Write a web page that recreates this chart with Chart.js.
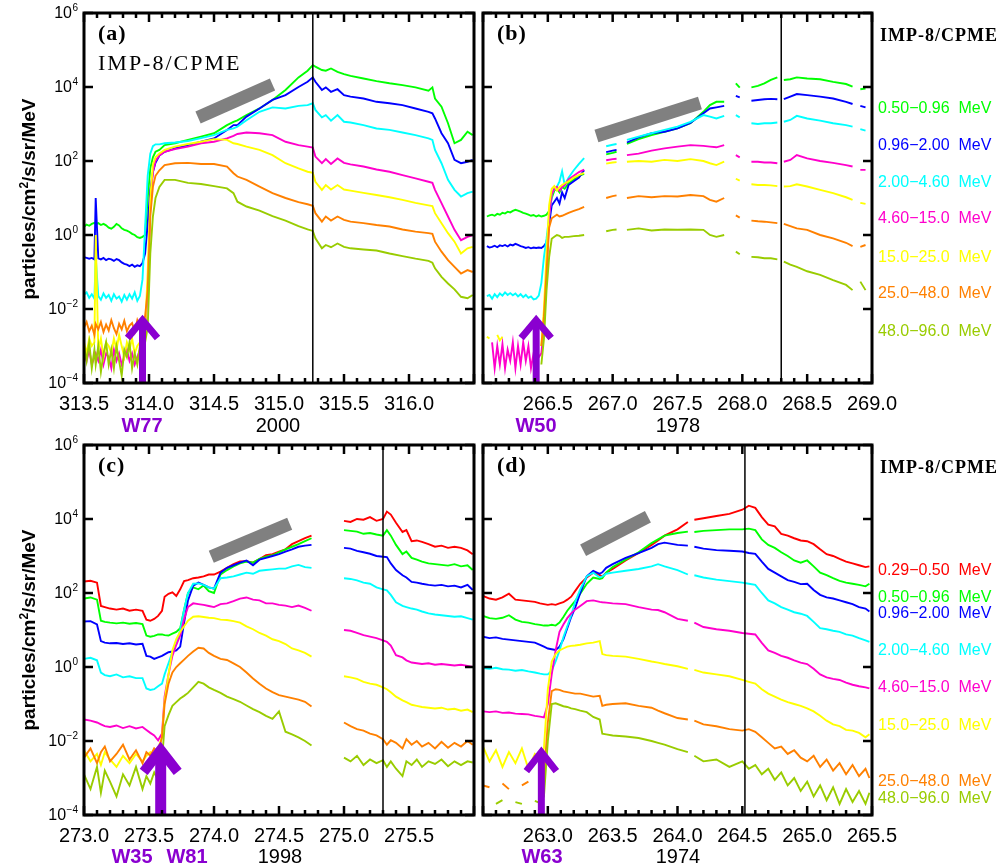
<!DOCTYPE html>
<html>
<head>
<meta charset="utf-8">
<script src="https://cdn.jsdelivr.net/npm/chart.js@4.4.1/dist/chart.umd.min.js"></script>
<style>
body{margin:0;background:#fff;width:1003px;height:868px;position:relative;overflow:hidden;font-family:"Liberation Sans",Arial,sans-serif}
canvas{position:absolute}
.t{position:absolute;white-space:pre;line-height:1;transform:translateY(-50%)}
.m{position:absolute;white-space:pre;line-height:1;transform:translate(-50%,-50%);font-size:20px}
.w{color:#8a00d0;font-weight:bold}
.e{font-size:16px;left:878px}
.imp{font-family:"Liberation Serif",serif;font-weight:bold;font-size:18px;letter-spacing:1px;left:880px}
.p{font-family:"Liberation Serif",serif;font-weight:bold;font-size:22px;letter-spacing:1px}
.yt{position:absolute;white-space:pre;line-height:1;font-weight:bold;font-size:19px;transform:translate(-50%,-50%) rotate(-90deg)}
.yt sup{font-size:12px;vertical-align:7px}
</style>
</head>
<body>
<canvas id="pa" width="500" height="420" style="left:0;top:0"></canvas>
<canvas id="pb" width="445" height="420" style="left:470px;top:0"></canvas>
<canvas id="pc" width="500" height="420" style="left:0;top:432px"></canvas>
<canvas id="pd" width="445" height="420" style="left:470px;top:432px"></canvas>

<div class="yt" style="left:28px;top:199px">particles/cm<sup>2</sup>/s/sr/MeV</div>
<div class="yt" style="left:28px;top:630px">particles/cm<sup>2</sup>/s/sr/MeV</div>

<div class="t p" style="left:98px;top:33px">(a)</div>
<div class="t" style="left:98px;top:63px;font-family:'Liberation Serif',serif;font-size:22px;letter-spacing:2px">IMP-8/CPME</div>
<div class="t p" style="left:497px;top:33px">(b)</div>
<div class="t p" style="left:98px;top:465px">(c)</div>
<div class="t p" style="left:497px;top:465px">(d)</div>

<div class="m w" style="left:142px;top:425px">W77</div>
<div class="m" style="left:278px;top:425px">2000</div>
<div class="m w" style="left:536px;top:425px">W50</div>
<div class="m" style="left:678px;top:425px">1978</div>
<div class="m w" style="left:132px;top:856px">W35</div>
<div class="m w" style="left:187px;top:856px">W81</div>
<div class="m" style="left:280px;top:856px">1998</div>
<div class="m w" style="left:542px;top:856px">W63</div>
<div class="m" style="left:678px;top:856px">1974</div>

<div class="t imp" style="top:35px">IMP-8/CPME</div>
<div class="t e" style="top:108px;color:#00ff00">0.50−0.96  MeV</div>
<div class="t e" style="top:145px;color:#0000ff">0.96−2.00  MeV</div>
<div class="t e" style="top:182px;color:#00ffff">2.00−4.60  MeV</div>
<div class="t e" style="top:218px;color:#ff00cc">4.60−15.0  MeV</div>
<div class="t e" style="top:257px;color:#ffff00">15.0−25.0  MeV</div>
<div class="t e" style="top:293px;color:#ff8000">25.0−48.0  MeV</div>
<div class="t e" style="top:331px;color:#99cc00">48.0−96.0  MeV</div>

<div class="t imp" style="top:467px">IMP-8/CPME</div>
<div class="t e" style="top:570px;color:#ff0000">0.29−0.50  MeV</div>
<div class="t e" style="top:597px;color:#00ff00">0.50−0.96  MeV</div>
<div class="t e" style="top:613px;color:#0000ff">0.96−2.00  MeV</div>
<div class="t e" style="top:650px;color:#00ffff">2.00−4.60  MeV</div>
<div class="t e" style="top:687px;color:#ff00cc">4.60−15.0  MeV</div>
<div class="t e" style="top:725px;color:#ffff00">15.0−25.0  MeV</div>
<div class="t e" style="top:781px;color:#ff8000">25.0−48.0  MeV</div>
<div class="t e" style="top:798px;color:#99cc00">48.0−96.0  MeV</div>

<script>
// values are log10 of the flux (particles/cm2/s/sr/MeV), null = data gap
const yTickExps = [-4, -2, 0, 2, 4, 6];

// ---- (a) 2000 ----
const daysA = [313.50,313.52,313.54,313.56,313.58,313.59,313.61,313.63,313.65,313.67,313.69,313.71,313.73,313.75,313.77,313.79,313.81,313.83,313.85,313.87,313.89,313.91,313.93,313.95,313.97,
  313.99,314.01,314.03,314.05,314.08,
  314.12,314.2,314.3,314.4,314.5,314.6,314.65,314.68,314.75,314.85,314.95,315.05,315.15,315.22,315.26,315.28,315.33,315.36,315.40,315.45,315.50,315.55,315.65,315.75,315.85,315.95,316.05,316.15,316.18,316.20,316.25,316.30,316.35,316.40,316.45,316.49];
const ticksA = [313.5, 314.0, 314.5, 315.0, 315.5, 316.0];
const aGreen = [0.22,0.28,0.25,0.30,0.33,0.30,0.32,0.27,0.30,0.26,0.20,0.17,0.22,0.30,0.26,0.18,0.14,0.12,0.08,0.03,0.00,-0.06,-0.08,-0.05,0.0,
  1.0,1.8,2.1,2.25,2.3,
  2.43,2.48,2.57,2.66,2.75,2.97,3.06,3.1,3.24,3.42,3.65,3.92,4.26,4.44,4.59,4.55,4.46,4.44,4.5,4.41,4.35,4.3,4.23,4.16,4.1,4.05,3.99,3.9,3.99,3.69,3.47,3.02,2.48,2.57,2.79,2.7];
const aBlue = [-0.60,-0.62,-0.64,-0.62,-0.66,1.0,-0.63,-0.66,-0.62,-0.68,-0.64,-0.66,-0.70,-0.65,-0.68,-0.74,-0.78,-0.80,-0.84,-0.80,-0.86,-0.82,-0.84,-0.76,-0.5,
  0.3,1.2,1.7,1.95,2.15,
  2.25,2.34,2.43,2.52,2.61,2.84,2.97,2.97,3.2,3.42,3.65,3.78,4.0,4.14,4.26,4.14,3.92,3.99,3.87,3.94,3.78,3.74,3.69,3.6,3.56,3.51,3.42,3.33,3.29,3.15,2.75,2.48,2.03,1.94,1.98,2.03];
const aCyan = [-1.62,-1.55,-1.70,-1.60,-1.72,-0.6,-1.65,-1.75,-1.58,-1.70,-1.62,-1.78,-1.60,-1.72,-1.66,-1.80,-1.62,-1.75,-1.60,-1.72,-1.55,-1.78,-1.65,-1.2,0.2,
  1.6,2.2,2.4,2.45,2.45,
  2.48,2.5,2.54,2.62,2.7,2.84,2.88,2.93,3.1,3.33,3.45,3.42,3.49,3.51,3.56,3.38,3.18,3.24,3.09,3.24,3.06,3.04,2.97,2.88,2.84,2.77,2.7,2.61,2.57,2.3,1.94,1.49,1.22,1.04,1.13,1.17];
const aMagenta = [-3.2,-3.4,-3.1,-3.5,-3.3,-3.2,-3.4,-3.1,-3.5,-3.2,-3.3,-3.6,-3.1,-3.4,-3.2,-3.5,-3.3,-3.1,-3.4,-3.2,-3.5,-3.3,-3.1,-2.9,-2.7,
  -1.5,0.8,1.7,2.0,2.15,
  2.25,2.32,2.39,2.48,2.52,2.61,2.68,2.73,2.77,2.75,2.7,2.52,2.43,2.39,2.36,2.12,1.94,2.05,1.92,2.07,1.95,1.91,1.85,1.77,1.71,1.62,1.53,1.44,1.41,1.22,0.86,0.5,0.14,-0.14,-0.05,0.0];
const aYellow = [-2.9,-3.2,-2.8,-3.0,-2.9,0.0,-3.1,-2.8,-3.3,-2.9,-3.0,-3.2,-2.8,-3.1,-2.7,-3.0,-3.3,-2.9,-3.1,-2.8,-3.2,-3.0,-2.9,-2.7,-2.6,
  -1.0,1.0,1.9,2.1,2.2,
  2.3,2.39,2.46,2.52,2.59,2.57,2.48,2.46,2.39,2.3,2.16,1.94,1.8,1.71,1.68,1.44,1.22,1.35,1.23,1.35,1.23,1.2,1.14,1.08,1.02,0.95,0.87,0.8,0.78,0.59,0.32,0.05,-0.18,-0.5,-0.36,-0.32];
const aOrange = [-2.50,-2.35,-2.60,-2.45,-2.70,-2.40,-2.55,-2.35,-2.62,-2.42,-2.58,-2.30,-2.52,-2.68,-2.40,-2.55,-2.32,-2.60,-2.45,-2.38,-2.62,-2.30,-2.50,-2.40,-2.2,
  -1.5,0.5,1.3,1.6,1.75,
  1.89,1.94,1.95,1.92,1.92,1.85,1.67,1.58,1.49,1.31,1.13,1.0,0.89,0.83,0.79,0.59,0.36,0.5,0.39,0.5,0.41,0.36,0.32,0.27,0.23,0.15,0.09,0.05,0.03,-0.18,-0.45,-0.68,-0.86,-1.04,-0.95,-1.0];
const aYGreen = [-3.0,-3.4,-2.9,-3.6,-3.1,-3.5,-3.0,-3.7,-3.2,-2.9,-3.5,-3.1,-3.6,-3.0,-3.4,-3.8,-3.1,-3.3,-2.9,-3.6,-3.2,-3.5,-3.0,-3.3,-2.9,
  -2.5,-0.5,0.5,1.0,1.3,
  1.49,1.49,1.41,1.38,1.32,1.26,1.13,0.9,0.77,0.66,0.51,0.39,0.24,0.15,0.11,-0.09,-0.36,-0.27,-0.33,-0.23,-0.32,-0.36,-0.39,-0.42,-0.5,-0.57,-0.64,-0.7,-0.75,-0.9,-1.13,-1.31,-1.47,-1.67,-1.71,-1.62];

// ---- (b) 1978 ----
const daysB = [266.03,266.05,266.07,266.09,266.11,266.13,266.15,266.17,266.19,266.21,266.23,266.25,266.27,266.29,266.31,266.33,266.35,266.37,266.39,266.41,266.43,
  266.45,266.47,266.49,266.51,266.53,266.55,266.57,266.59,266.61,266.63,266.66,266.70,266.74,266.78,
  266.85, 266.95,267.0,267.03, 267.07,
  267.11,267.2,267.3,267.4,267.5,267.6,267.7,267.75,267.8,267.86,
  267.91, 267.95,267.98, 268.02,
  268.07,268.12,268.17,268.22,268.27, 268.30,
  268.32,268.37,268.42,268.5,268.6,268.7,268.8,268.85, 268.88, 268.91,268.95];
const ticksB = [266.5, 267.0, 267.5, 268.0, 268.5, 269.0];
const bGreen = [0.50,0.53,0.55,0.52,0.57,0.55,0.60,0.58,0.63,0.61,0.65,0.68,0.66,0.63,0.60,0.58,0.55,0.52,0.54,0.50,0.53,
  0.50,0.52,0.55,0.65,1.0,1.2,1.25,1.15,1.3,1.25,1.4,1.5,1.6,1.65,
  null, 2.18,2.22,2.25, null,
  2.46,2.59,2.70,2.79,2.88,3.02,3.33,3.51,3.60,3.60,
  null, 4.10,3.98, null,
  3.99,4.03,4.10,4.19,4.26, null,
  4.19,4.21,4.26,4.23,4.21,4.14,4.08,4.01, null, 3.94,3.96];
const bBlue = [-0.30,-0.34,-0.32,-0.29,-0.33,-0.28,-0.30,-0.27,-0.31,-0.26,-0.28,-0.24,-0.27,-0.30,-0.32,-0.35,-0.33,-0.36,-0.34,-0.35,-0.34,
  -0.35,-0.3,-0.2,0.3,0.8,0.9,1.0,0.85,1.15,1.0,1.35,1.45,1.55,1.75,
  null, 2.24,2.28,2.30, null,
  2.50,2.64,2.75,2.79,2.88,3.03,3.29,3.42,3.45,3.49,
  null, 3.76,3.72, null,
  3.63,3.65,3.67,3.68,3.67, null,
  3.67,3.74,3.81,3.78,3.74,3.69,3.60,3.54, null, 3.49,3.45];
const bCyan = [-1.65,-1.62,-1.72,-1.60,-1.68,-1.58,-1.64,-1.55,-1.62,-1.57,-1.63,-1.58,-1.66,-1.60,-1.68,-1.62,-1.70,-1.66,-1.74,-1.72,-1.64,
  -1.3,-0.6,-0.1,0.5,1.1,1.25,1.3,1.45,1.72,1.35,1.55,1.75,1.92,2.08,
  null, 2.40,2.44,2.46, null,
  2.57,2.66,2.75,2.84,2.93,3.06,3.24,3.20,3.15,3.22,
  null, 3.24,3.18, null,
  3.02,3.00,3.02,3.02,3.04, null,
  3.06,3.11,3.22,3.15,3.09,3.02,2.97,2.93, null, 2.86,2.82];
const bMagenta = [null,null,-2.9,-3.6,-3.0,-3.5,-2.95,-3.6,-3.1,-3.4,-2.9,-3.6,-3.0,-3.5,-2.9,-3.4,-3.0,-3.6,-3.2,-3.4,-3.3,
  -3.2,-2.5,-1.0,0.5,1.1,1.25,1.3,1.2,1.3,1.35,1.5,1.6,1.7,1.77,
  null, 2.02,2.05,2.06, null,
  2.16,2.20,2.28,2.34,2.39,2.43,2.41,2.39,2.37,2.43,
  null, 2.16,2.10, null,
  1.98,1.98,1.96,1.96,1.94, null,
  1.98,2.03,2.16,2.07,2.00,1.95,1.89,1.85, null, 1.76,1.76];
const bYellow = [-2.75,-2.8,null,null,-2.7,-2.85,-2.75,null,null,null,null,null,null,null,null,null,null,null,null,null,null,
  -3.0,-2.0,-0.5,0.8,1.25,1.32,1.2,1.3,1.35,1.4,1.45,1.55,1.62,1.68,
  null, 1.93,1.96,1.97, null,
  1.98,2.00,1.98,2.03,2.00,2.05,2.00,1.94,1.89,1.98,
  null, 1.52,1.47, null,
  1.37,1.35,1.35,1.34,1.32, null,
  1.31,1.32,1.37,1.31,1.22,1.13,1.02,0.95, null, 0.87,0.84];
const bOrange = [null,null,null,null,null,null,null,null,null,null,null,null,null,null,null,null,null,null,null,null,null,
  -3.0,-2.2,-1.0,0.2,0.45,0.5,0.55,0.5,0.52,0.55,0.6,0.65,0.7,0.76,
  null, 1.00,1.05,1.07, null,
  1.00,1.05,1.02,1.05,1.04,1.08,1.05,0.95,0.90,1.00,
  null, 0.53,0.47, null,
  0.39,0.37,0.36,0.34,0.32, null,
  0.30,0.24,0.18,0.14,0.00,-0.09,-0.21,-0.30, null, -0.32,-0.27];
const bYGreen = [null,null,null,null,null,null,null,null,null,null,null,null,null,null,null,null,null,null,null,null,null,
  -3.5,-2.8,-1.5,-0.6,-0.1,-0.05,0.0,-0.02,-0.08,-0.05,-0.05,-0.03,-0.02,0.0,
  null, 0.10,0.14,0.15, null,
  0.14,0.18,0.12,0.15,0.14,0.15,0.14,0.00,-0.05,0.00,
  null, -0.45,-0.52, null,
  -0.59,-0.60,-0.63,-0.63,-0.66, null,
  -0.72,-0.80,-0.86,-0.98,-1.08,-1.22,-1.35,-1.49, null, -1.26,-1.49];

// ---- (c) 1998 ----
const daysC = [273.00,273.05,273.10,273.13,273.16,273.20,273.25,273.30,273.35,273.40,273.45,273.48,273.51,273.54,273.57,
  273.60,273.62,273.65,273.68,273.71,273.74,273.77,273.80,273.84,273.88,273.92,273.96,274.00,
  274.05,274.10,274.15,274.20,274.25,274.30,274.35,274.40,274.45,274.50,274.55,274.60,274.65,274.70,274.75,
  274.85,
  275.00,275.05,275.10,275.15,275.20,275.25,275.30,
  275.33,275.36,275.40,275.45,275.48,275.52,275.56,275.60,
  275.65,275.70,275.75,275.80,275.85,275.90,275.95,275.99];
const ticksC = [273.0, 273.5, 274.0, 274.5, 275.0, 275.5];
const cRed = [2.31,2.33,2.28,1.65,1.62,1.58,1.55,1.58,1.52,1.55,1.52,1.28,1.25,1.30,1.38,
  1.52,1.90,1.98,2.02,1.92,2.10,2.32,2.35,2.40,2.42,2.45,2.50,2.50,
  2.58,2.68,2.78,2.85,2.86,2.82,2.92,3.02,3.05,3.12,3.18,3.32,3.40,3.48,3.55,
  null,
  3.95,3.92,4.00,3.98,4.05,3.95,4.00,
  4.20,4.12,3.90,3.65,3.70,3.40,3.42,3.38,
  3.32,3.25,3.28,3.22,3.25,3.22,3.15,3.05];
const cGreen = [1.85,1.88,1.82,1.25,1.22,1.20,1.18,1.20,1.17,1.19,1.16,0.85,0.82,0.84,0.88,
  0.88,0.86,0.85,0.90,0.95,1.05,1.55,2.00,2.15,2.10,2.20,2.05,2.00,
  2.50,2.62,2.72,2.80,2.85,2.82,2.92,2.98,3.02,3.10,3.18,3.25,3.32,3.40,3.48,
  null,
  3.70,3.68,3.66,3.60,3.62,3.58,3.55,
  3.70,3.55,3.30,3.05,3.12,2.95,2.90,2.85,
  2.80,2.78,2.76,2.74,2.78,2.72,2.75,2.62];
const cBlue = [1.23,1.24,1.15,0.70,0.66,0.64,0.65,0.62,0.64,0.61,0.63,0.30,0.28,0.22,0.26,
  0.30,0.34,0.40,0.42,0.45,0.55,1.20,1.80,2.20,2.28,2.22,2.15,2.12,
  2.55,2.68,2.75,2.82,2.88,2.75,2.90,2.95,3.00,3.05,3.12,3.18,3.25,3.28,3.30,
  null,
  3.22,3.20,3.14,3.10,3.06,3.00,2.98,
  2.97,2.80,2.62,2.48,2.42,2.30,2.28,2.25,
  2.22,2.20,2.22,2.18,2.20,2.15,2.22,2.08];
const cCyan = [0.22,0.25,0.18,-0.15,-0.22,-0.25,-0.20,-0.28,-0.25,-0.30,-0.30,-0.58,-0.62,-0.60,-0.52,
  -0.45,-0.2,0.1,0.4,0.62,1.0,1.55,2.0,2.25,2.26,2.22,2.15,2.12,
  2.40,2.42,2.45,2.50,2.55,2.52,2.60,2.62,2.64,2.66,2.66,2.72,2.76,2.70,2.68,
  null,
  2.40,2.38,2.34,2.28,2.25,2.15,2.10,
  2.07,1.95,1.75,1.65,1.62,1.58,1.55,1.50,
  1.45,1.42,1.40,1.38,1.36,1.37,1.32,1.28];
const cMagenta = [-1.42,-1.45,-1.50,-1.55,-1.60,-1.62,-1.58,-1.65,-1.60,-1.66,-1.62,-1.70,-1.78,-1.85,-1.98,
  -1.8,-0.8,-0.2,0.3,0.6,0.85,1.30,1.62,1.72,1.70,1.68,1.65,1.62,
  1.70,1.72,1.78,1.85,1.88,1.82,1.80,1.72,1.72,1.68,1.66,1.62,1.66,1.60,1.52,
  null,
  1.00,0.98,0.92,0.86,0.82,0.78,0.72,
  0.68,0.58,0.32,0.26,0.18,0.12,0.10,0.08,
  0.10,0.06,0.08,0.06,0.04,0.06,0.03,0.00];
const cYellow = [-2.25,-2.55,-2.35,-2.65,-2.30,-2.50,-2.70,-2.40,-2.60,-2.35,-2.55,-2.40,-2.30,-2.45,-2.20,
  -1.9,-0.9,-0.2,0.45,0.75,0.95,1.10,1.25,1.36,1.37,1.35,1.33,1.32,
  1.28,1.27,1.24,1.20,1.10,1.02,0.92,0.85,0.75,0.70,0.62,0.50,0.45,0.38,0.28,
  null,
  -0.25,-0.28,-0.32,-0.40,-0.45,-0.48,-0.55,
  -0.60,-0.68,-0.80,-0.90,-0.95,-1.02,-1.05,-1.08,
  -1.10,-1.12,-1.10,-1.15,-1.13,-1.18,-1.15,-1.22];
const cOrange = [-2.45,-2.20,-2.60,-2.30,-2.15,-2.55,-2.35,-2.10,-2.50,-2.25,-2.60,-2.30,-2.40,-2.20,-2.30,
  -1.9,-1.0,-0.45,-0.15,0.0,0.1,0.2,0.3,0.42,0.52,0.5,0.38,0.3,
  0.22,0.19,0.10,0.00,-0.15,-0.31,-0.45,-0.58,-0.68,-0.76,-0.80,-0.84,-0.88,-0.94,-1.07,
  null,
  -1.50,-1.60,-1.68,-1.72,-1.80,-1.85,-1.95,
  -2.10,-1.98,-2.05,-2.20,-1.95,-2.10,-2.00,-2.15,
  -2.05,-2.20,-2.02,-2.18,-2.05,-2.15,-2.00,-2.10];
const cYGreen = [-2.90,-3.30,-2.70,-3.40,-2.80,-3.10,-3.50,-2.90,-3.20,-2.70,-3.30,-2.95,-3.15,-2.85,-3.05,
  -2.5,-1.6,-1.3,-1.05,-0.95,-0.85,-0.78,-0.70,-0.55,-0.40,-0.45,-0.55,-0.62,
  -0.70,-0.80,-0.87,-0.94,-1.04,-1.14,-1.22,-1.32,-1.40,-1.20,-1.75,-1.82,-1.90,-2.00,-2.12,
  null,
  -2.45,-2.55,-2.40,-2.65,-2.50,-2.60,-2.52,
  -2.70,-2.55,-2.75,-2.95,-2.55,-2.65,-2.50,-2.70,
  -2.55,-2.62,-2.50,-2.68,-2.55,-2.65,-2.55,-2.58];

// ---- (d) 1974 ----
const daysD = [262.50,262.55,262.60,262.65,262.70,262.75,262.80,262.85,262.90,262.94,
  262.97,263.00,263.03,263.06,263.09,263.12,263.15,263.18,263.21,263.25,263.30,263.35,263.40,263.42,263.45,263.50,263.60,263.70,263.80,263.85,263.90,264.00,264.08,
  264.11,
  264.13,264.20,264.30,264.40,264.50,264.55,264.60,264.65,264.70,264.75,264.80,264.85,264.90,264.95,265.00,265.05,265.10,265.15,265.20,265.25,265.30,265.35,265.40,265.45,265.48];
const ticksD = [263.0, 263.5, 264.0, 264.5, 265.0, 265.5];
const dRed = [1.92,1.85,1.82,1.88,1.98,1.82,1.80,1.78,1.76,1.72,
  1.70,1.68,1.70,1.68,1.72,1.75,1.82,1.90,2.05,2.25,2.42,2.55,2.48,2.45,2.55,2.65,2.88,3.08,3.30,3.42,3.55,3.72,3.92,
  null,
  3.98,4.02,4.08,4.14,4.25,4.36,4.30,4.05,3.85,3.80,3.60,3.55,3.48,3.42,3.40,3.32,3.18,3.05,3.0,2.92,2.85,2.80,2.75,2.70,2.72];
const dGreen = [1.38,1.32,1.30,1.33,1.40,1.28,1.22,1.20,1.16,1.14,
  1.12,1.12,1.14,1.12,1.20,1.35,1.52,1.65,1.78,1.98,2.25,2.42,2.38,2.40,2.55,2.70,2.90,3.10,3.35,3.45,3.55,3.62,3.66,
  null,
  3.65,3.68,3.70,3.72,3.72,3.74,3.70,3.45,3.30,3.22,3.10,3.00,2.88,2.82,2.88,2.72,2.55,2.48,2.40,2.33,2.28,2.25,2.22,2.18,2.25];
const dBlue = [0.82,0.78,0.80,0.76,0.74,0.72,0.70,0.68,0.66,0.60,
  0.55,0.50,0.48,0.46,0.55,0.75,1.05,1.35,1.60,2.00,2.45,2.60,2.52,2.56,2.68,2.78,2.95,3.08,3.22,3.32,3.36,3.30,3.28,
  null,
  3.25,3.20,3.16,3.14,3.12,3.08,3.06,2.85,2.65,2.55,2.45,2.35,2.30,2.24,2.25,2.08,1.95,1.88,1.85,1.80,1.75,1.70,1.62,1.58,1.50];
const dCyan = [-0.03,-0.05,-0.02,-0.06,-0.07,-0.10,-0.08,-0.12,-0.15,-0.18,
  -0.20,-0.20,-0.10,0.15,0.45,0.80,1.10,1.40,1.75,2.10,2.45,2.55,2.42,2.45,2.52,2.55,2.60,2.65,2.72,2.78,2.72,2.62,2.50,
  null,
  2.48,2.42,2.36,2.32,2.28,2.25,2.22,2.00,1.80,1.72,1.62,1.55,1.48,1.44,1.38,1.22,1.05,1.02,0.98,0.95,0.88,0.85,0.78,0.72,0.68];
const dMagenta = [-1.20,-1.22,-1.20,-1.24,-1.23,-1.26,-1.27,-1.28,-1.32,-1.34,
  -1.36,-1.0,-0.2,0.45,0.95,1.15,1.32,1.45,1.55,1.65,1.78,1.80,1.76,1.75,1.74,1.72,1.70,1.62,1.55,1.54,1.48,1.30,1.25,
  null,
  1.20,1.08,1.02,0.98,0.92,0.90,0.88,0.65,0.45,0.38,0.30,0.25,0.18,0.12,0.08,-0.05,-0.20,-0.28,-0.32,-0.35,-0.42,-0.48,-0.52,-0.55,-0.58];
const dYellow = [-2.15,-2.55,-2.25,-2.70,-2.30,-2.60,-2.20,-2.75,-2.35,-2.50,
  -2.2,-0.6,0.15,0.35,0.45,0.50,0.55,0.57,0.58,0.60,0.64,0.66,0.70,0.35,0.32,0.30,0.28,0.22,0.15,0.12,0.08,0.02,-0.05,
  null,
  -0.08,-0.15,-0.20,-0.25,-0.35,-0.40,-0.45,-0.60,-0.72,-0.80,-0.88,-0.95,-1.00,-1.05,-1.12,-1.20,-1.32,-1.45,-1.55,-1.60,-1.70,-1.72,-1.78,-1.90,-1.82];
const dOrange = [-3.2,-3.25,null,-3.15,-3.3,null,-3.2,-3.1,null,-3.25,
  -3.0,-1.5,-0.65,-0.60,-0.62,-0.66,-0.68,-0.70,-0.72,-0.72,-0.76,-0.80,-0.78,-1.05,-1.02,-1.00,-0.98,-1.05,-1.10,-1.18,-1.25,-1.38,-1.42,
  null,
  -1.45,-1.55,-1.60,-1.68,-1.72,-1.68,-1.75,-1.90,-2.05,-2.20,-2.15,-2.35,-2.25,-2.45,-2.55,-2.40,-2.70,-2.50,-2.80,-2.60,-2.90,-2.65,-2.95,-2.75,-3.0];
const dYGreen = [-3.65,null,-3.7,-3.6,null,-3.65,-3.7,null,-3.62,-3.68,
  -3.5,-2.0,-1.00,-0.98,-1.02,-1.06,-1.08,-1.12,-1.14,-1.18,-1.22,-1.35,-1.42,-1.80,-1.82,-1.85,-1.88,-1.92,-2.00,-2.05,-2.10,-2.22,-2.30,
  null,
  -2.40,-2.55,-2.50,-2.70,-2.55,-2.75,-2.65,-2.90,-2.75,-3.05,-2.85,-3.20,-3.00,-3.35,-3.10,-3.50,-3.20,-3.60,-3.25,-3.70,-3.30,-3.65,-3.35,-3.70,-3.40];

const RED = '#ff0000', GREEN = '#00ff00', BLUE = '#0000ff', CYAN = '#00ffff',
      MAGENTA = '#ff00cc', YELLOW = '#ffff00', ORANGE = '#ff8000', YGREEN = '#99cc00', PURPLE = '#8a00d0';

Chart.defaults.font.family = '"Liberation Sans", Arial, sans-serif';

const decor = {
  id: 'decor',
  afterDatasetsDraw(chart, args, o) {
    const {ctx, chartArea: a, scales: {x, y}} = chart;
    ctx.save();
    // event marker
    const vx = x.getPixelForValue(o.vline);
    ctx.strokeStyle = '#000';
    ctx.lineWidth = 1.5;
    ctx.beginPath(); ctx.moveTo(vx, a.top); ctx.lineTo(vx, a.bottom); ctx.stroke();
    // grey slope bar
    ctx.strokeStyle = '#808080';
    ctx.lineWidth = 13;
    ctx.beginPath();
    ctx.moveTo(x.getPixelForValue(o.bar[0]), y.getPixelForValue(Math.pow(10, o.bar[1])));
    ctx.lineTo(x.getPixelForValue(o.bar[2]), y.getPixelForValue(Math.pow(10, o.bar[3])));
    ctx.stroke();
    // onset arrow
    const ar = o.arrow;
    const ax = x.getPixelForValue(ar.x), at = y.getPixelForValue(Math.pow(10, ar.tip));
    ctx.strokeStyle = PURPLE;
    ctx.lineWidth = ar.sw;
    ctx.beginPath(); ctx.moveTo(ax, a.bottom); ctx.lineTo(ax, at + 3); ctx.stroke();
    ctx.lineWidth = ar.w;
    ctx.lineJoin = 'miter';
    ctx.beginPath(); ctx.moveTo(ax - ar.hw, at + ar.hl); ctx.lineTo(ax, at); ctx.lineTo(ax + ar.hw, at + ar.hl); ctx.stroke();
    // frame
    ctx.strokeStyle = '#000';
    ctx.lineWidth = 3;
    ctx.strokeRect(a.left, a.top, a.right - a.left, a.bottom - a.top);
    // x ticks, inward, top and bottom
    ctx.lineWidth = 2.5;
    const n = Math.round((x.max - x.min) / 0.1);
    ctx.beginPath();
    for (let i = 0; i <= n; i++) {
      const px = x.getPixelForValue(x.min + i * 0.1);
      const len = i % 5 === 0 ? 9 : 5;
      ctx.moveTo(px, a.bottom); ctx.lineTo(px, a.bottom - len);
      ctx.moveTo(px, a.top); ctx.lineTo(px, a.top + len);
    }
    // y ticks, left and right
    yTickExps.forEach(e => {
      const py = y.getPixelForValue(Math.pow(10, e));
      ctx.moveTo(a.left, py); ctx.lineTo(a.left + 9, py);
      ctx.moveTo(a.right, py); ctx.lineTo(a.right - 9, py);
    });
    ctx.stroke();
    // y labels
    if (o.yLabels) {
      ctx.fillStyle = '#000';
      yTickExps.forEach(e => {
        const py = y.getPixelForValue(Math.pow(10, e));
        const ex = e < 0 ? '\u2212' + (-e) : String(e);
        ctx.font = '10px "Liberation Sans", Arial, sans-serif';
        ctx.textAlign = 'right';
        ctx.textBaseline = 'alphabetic';
        const right = a.left - 6;
        ctx.fillText(ex, right, py - 2);
        const ew = ctx.measureText(ex).width;
        ctx.font = '16px "Liberation Sans", Arial, sans-serif';
        ctx.textBaseline = 'middle';
        ctx.fillText('10', right - ew - 0.5, py + 1);
      });
    }
    ctx.restore();
  }
};

function makePanel(id, days, series, range, ticks, opts) {
  const datasets = series.slice().reverse().map(s => ({
    data: days.map((d, i) => ({x: d, y: s[0][i] == null ? null : Math.pow(10, s[0][i])})),
    borderColor: s[1],
    borderWidth: 1.9,
    pointRadius: 0,
    tension: 0,
    spanGaps: false
  }));
  new Chart(document.getElementById(id), {
    type: 'line',
    data: {datasets},
    options: {
      responsive: false,
      animation: false,
      events: [],
      layout: {padding: opts.pad},
      plugins: {legend: {display: false}, tooltip: {enabled: false}, decor: opts},
      scales: {
        x: {
          type: 'linear', min: range[0], max: range[1],
          grid: {display: false, drawTicks: false},
          border: {display: false},
          afterBuildTicks: sc => { sc.ticks = ticks.map(v => ({value: v})); },
          afterFit: sc => { sc.height = 37; },
          ticks: {autoSkip: false, maxRotation: 0, padding: 9, color: '#000',
                  font: {size: 20}, callback: v => Number(v).toFixed(1)}
        },
        y: {type: 'logarithmic', min: 1e-4, max: 1e6, display: false}
      }
    },
    plugins: [decor]
  });
}

makePanel('pa', daysA,
  [[aGreen, GREEN], [aBlue, BLUE], [aCyan, CYAN], [aMagenta, MAGENTA], [aYellow, YELLOW], [aOrange, ORANGE], [aYGreen, YGREEN]],
  [313.5, 316.5], ticksA,
  {pad: {left: 84, top: 13, right: 26, bottom: 0}, yLabels: true, vline: 315.26,
   bar: [314.377, 3.176, 314.95, 4.068], arrow: {x: 313.95, tip: -2.30, hw: 15, hl: 18, w: 7, sw: 7}});

makePanel('pb', daysB,
  [[bGreen, GREEN], [bBlue, BLUE], [bCyan, CYAN], [bMagenta, MAGENTA], [bYellow, YELLOW], [bOrange, ORANGE], [bYGreen, YGREEN]],
  [266.0, 269.0], ticksB,
  {pad: {left: 13, top: 13, right: 43, bottom: 0}, yLabels: false, vline: 268.3,
   bar: [266.875, 2.676, 267.673, 3.568], arrow: {x: 266.41, tip: -2.30, hw: 15, hl: 18, w: 7, sw: 7}});

makePanel('pc', daysC,
  [[cRed, RED], [cGreen, GREEN], [cBlue, BLUE], [cCyan, CYAN], [cMagenta, MAGENTA], [cYellow, YELLOW], [cOrange, ORANGE], [cYGreen, YGREEN]],
  [273.0, 276.0], ticksC,
  {pad: {left: 84, top: 13, right: 26, bottom: 0}, yLabels: true, vline: 275.3,
   bar: [273.979, 2.98, 274.582, 3.873], arrow: {x: 273.59, tip: -2.24, hw: 17, hl: 22, w: 10, sw: 11}});

makePanel('pd', daysD,
  [[dRed, RED], [dGreen, GREEN], [dBlue, BLUE], [dCyan, CYAN], [dMagenta, MAGENTA], [dYellow, YELLOW], [dOrange, ORANGE], [dYGreen, YGREEN]],
  [262.5, 265.5], ticksD,
  {pad: {left: 13, top: 13, right: 43, bottom: 0}, yLabels: false, vline: 264.52,
   bar: [263.272, 3.154, 263.772, 4.062], arrow: {x: 262.95, tip: -2.30, hw: 15, hl: 19, w: 7, sw: 7}});
</script>
</body>
</html>
